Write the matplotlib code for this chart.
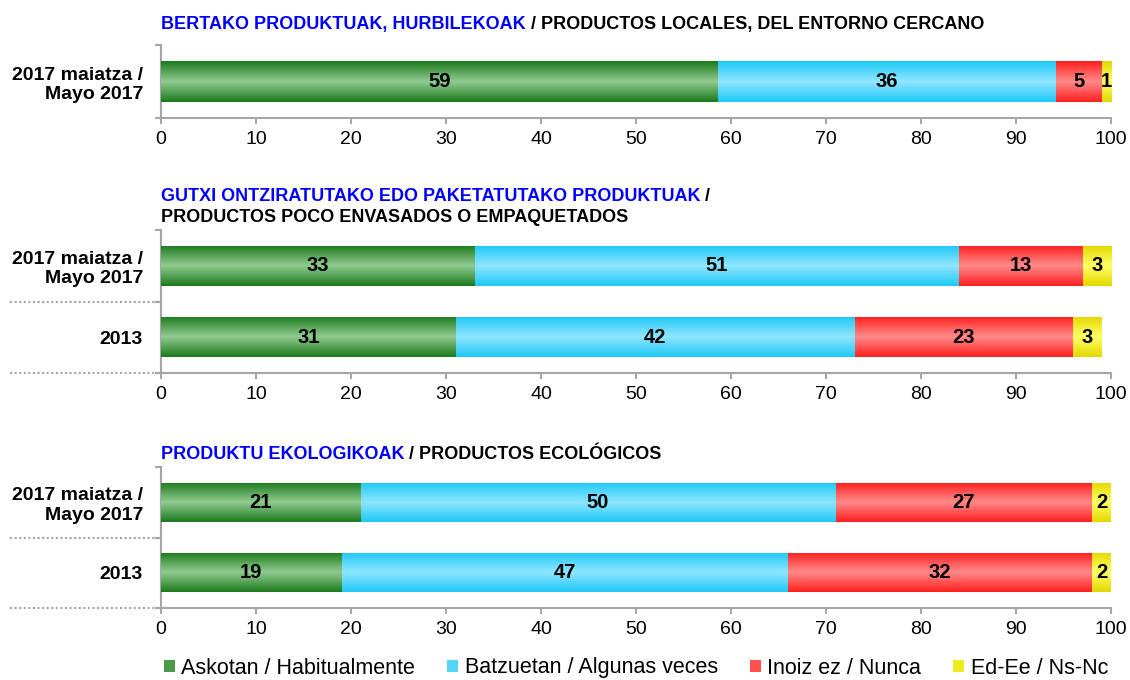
import matplotlib
matplotlib.use("Agg")
import matplotlib.pyplot as plt
import numpy as np
from matplotlib.colors import LinearSegmentedColormap
from matplotlib.patches import Patch

plt.rcParams["font.family"] = ["Liberation Sans", "DejaVu Sans"]

# data
local_labels = ["2017 maiatza /\nMayo 2017"]
local_askotan = [58.6]
local_batzuetan = [35.6]
local_inoiz = [4.8]
local_nsnc = [1.0]

pack_labels = ["2013", "2017 maiatza /\nMayo 2017"]
pack_askotan = [31, 33]
pack_batzuetan = [42, 51]
pack_inoiz = [23, 13]
pack_nsnc = [3, 3]

eco_labels = ["2013", "2017 maiatza /\nMayo 2017"]
eco_askotan = [19, 21]
eco_batzuetan = [47, 50]
eco_inoiz = [32, 27]
eco_nsnc = [2, 2]

series_names = ["Askotan / Habitualmente", "Batzuetan / Algunas veces",
                "Inoiz ez / Nunca", "Ed-Ee / Ns-Nc"]
edge_colors = ["#1c7a1c", "#1ec8f6", "#ff2020", "#e4d800"]
center_colors = ["#92cb92", "#90e6ff", "#ff8a8a", "#ffff66"]
legend_colors = ["#4a9a4a", "#55d4fa", "#ff5050", "#eeea20"]

GRAY = "#a6a6a6"
BLUE = "#0000ff"
TITLE_SIZE = 13
grad = np.linspace(0, 1, 64).reshape(-1, 1)


def draw_group(ax, labels, series):
    y = np.arange(len(labels))
    left = np.zeros(len(labels))
    for vals, edge, center in zip(series, edge_colors, center_colors):
        bars = ax.barh(y, vals, left=left, height=0.56, color=edge,
                       edgecolor="none", zorder=2)
        cmap = LinearSegmentedColormap.from_list("g", [edge, center, edge])
        for b in bars:
            x0, y0 = b.get_xy()
            im = ax.imshow(grad, cmap=cmap, aspect="auto", origin="lower",
                           extent=[x0, x0 + b.get_width(), y0, y0 + b.get_height()],
                           zorder=3)
            im.set_clip_path(b)
        texts = ax.bar_label(bars, labels=["%.0f" % v for v in vals],
                             label_type="center", fontsize=14.5, fontweight="bold")
        for t in texts:
            t.set_zorder(5)
        left = left + np.array(vals)

    ax.set_xlim(0, 100)
    ax.set_ylim(-0.5, len(labels) - 0.5)
    ax.set_xticks(np.arange(0, 101, 10))
    ax.tick_params(axis="x", length=4, width=1.5, color=GRAY, labelsize=14, pad=5)
    ax.set_yticks(np.arange(len(labels) + 1) - 0.5)
    ax.set_yticklabels([])
    ax.tick_params(axis="y", which="major", length=4, width=1.5, color=GRAY)
    ax.set_yticks(y, minor=True)
    ax.set_yticklabels(labels, minor=True, fontsize=14, fontweight="bold")
    ax.tick_params(axis="y", which="minor", length=0, pad=13)
    for s in ["top", "right"]:
        ax.spines[s].set_visible(False)
    for s in ["left", "bottom"]:
        ax.spines[s].set_color(GRAY)
        ax.spines[s].set_linewidth(1.5)
    if len(labels) > 1:
        tr = ax.get_yaxis_transform()
        for yb in np.arange(len(labels)) - 0.5:
            ax.plot([-0.159, 0], [yb, yb], transform=tr, clip_on=False,
                    color=GRAY, lw=1.5, ls=(0, (1, 1.2)))


def title(fig, x, y, blue, black):
    t = fig.text(x, y, blue, color=BLUE, fontsize=TITLE_SIZE, fontweight="bold",
                 va="baseline", ha="left")
    plt.annotate(black, xy=(1, 0), xycoords=t, va="bottom", ha="left",
                 fontsize=TITLE_SIZE, fontweight="bold", color="black",
                 annotation_clip=False)


fig = plt.figure(figsize=(11.3, 6.8), dpi=100)
W, H = 1130, 680
x0, x1 = 161, 1111

ax1 = fig.add_axes([x0 / W, 1 - 118 / H, (x1 - x0) / W, 73 / H])
ax2 = fig.add_axes([x0 / W, 1 - 373 / H, (x1 - x0) / W, 143 / H])
ax3 = fig.add_axes([x0 / W, 1 - 608 / H, (x1 - x0) / W, 141 / H])

draw_group(ax1, local_labels, [local_askotan, local_batzuetan, local_inoiz, local_nsnc])
draw_group(ax2, pack_labels, [pack_askotan, pack_batzuetan, pack_inoiz, pack_nsnc])
draw_group(ax3, eco_labels, [eco_askotan, eco_batzuetan, eco_inoiz, eco_nsnc])

title(fig, x0 / W, 1 - 29 / H, "BERTAKO PRODUKTUAK, HURBILEKOAK",
      " / PRODUCTOS LOCALES, DEL ENTORNO CERCANO")
title(fig, x0 / W, 1 - 201 / H, "GUTXI ONTZIRATUTAKO EDO PAKETATUTAKO PRODUKTUAK", " /")
fig.text(x0 / W, 1 - 222 / H, "PRODUCTOS POCO ENVASADOS O EMPAQUETADOS",
         fontsize=TITLE_SIZE, fontweight="bold", va="baseline", ha="left")
title(fig, x0 / W, 1 - 459 / H, "PRODUKTU EKOLOGIKOAK", " / PRODUCTOS ECOLÓGICOS")

handles = [Patch(facecolor=c, edgecolor="none") for c in legend_colors]
fig.legend(handles, series_names, loc="center", bbox_to_anchor=(636 / W, 1 - 668 / H),
           ncol=4, frameon=False, fontsize=15.5, handlelength=0.5, handleheight=0.5,
           handletextpad=0.3, columnspacing=1.5, borderpad=0)

fig.savefig("out.png", dpi=100)
